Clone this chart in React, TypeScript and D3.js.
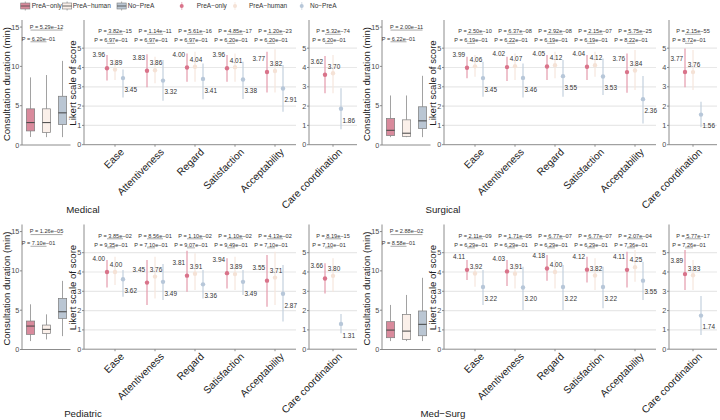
import * as d3 from 'd3'

const GROUPS = ['PreA-only', 'PreA-human', 'No-PreA']
const GROUP_LABELS = ['PreA−only', 'PreA−human', 'No−PreA']
const ITEMS = ['Ease', 'Attentiveness', 'Regard', 'Satisfaction', 'Acceptability']
const CC = 'Care coordination'

const PANEL_NAMES = ['Medical', 'Surgical', 'Pediatric', 'Med−Surg']

// box stats per group: [lower whisker, q1, median, q3, upper whisker]
const medicalBox = [[1.02, 1.79, 2.85, 4.6, 8.6], [1.0, 1.6, 2.85, 4.6, 8.9], [1.0, 2.6, 4.09, 6.2, 10.7]]
const surgicalBox = [[1.0, 1.2, 1.87, 3.37, 6.3], [1.0, 1.1, 1.5, 3.2, 6.3], [1.0, 2.1, 3.07, 4.86, 8.8]]
const pediatricBox = [[1.07, 1.92, 2.98, 3.62, 5.75], [1.28, 2.05, 2.56, 3.11, 4.47], [1.7, 3.96, 4.8, 6.5, 8.73]]
const medSurgBox = [[1.07, 1.5, 2.47, 3.54, 5.67], [1.07, 1.28, 2.34, 4.47, 6.94], [1.07, 1.75, 3.2, 4.9, 9.12]]

// Likert means per group, in ITEMS order then Care coordination
const medicalMean = [[3.96, 3.83, 4.0, 3.96, 3.77, 3.62], [3.89, 3.86, 4.04, 4.01, 3.82, 3.7], [3.45, 3.32, 3.41, 3.38, 2.91, 1.86]]
const medicalLow = [[3.32, 2.97, 3.26, 3.26, 2.7, 2.66], [3.35, 3.18, 3.26, 3.26, 2.7, 2.66], [2.44, 2.28, 2.35, 2.37, 1.71, 0.8]]
const medicalHigh = [[4.65, 4.68, 4.73, 4.65, 4.82, 4.6], [4.42, 4.56, 4.82, 4.73, 4.94, 4.65], [3.9, 4.39, 4.21, 4.3, 4.13, 2.92]]

const surgicalMean = [[3.99, 4.02, 4.05, 4.04, 3.76, 3.77], [4.06, 4.07, 4.12, 4.12, 3.84, 3.76], [3.45, 3.46, 3.55, 3.53, 2.36, 1.56]]
const surgicalLow = [[3.44, 3.3, 3.35, 3.35, 2.69, 2.97], [3.52, 3.35, 3.44, 3.52, 2.83, 2.83], [2.49, 2.45, 2.49, 2.57, 1.1, 0.9]]
const surgicalHigh = [[4.56, 4.56, 4.65, 4.65, 4.73, 4.99], [4.65, 4.73, 4.82, 4.82, 4.9, 4.9], [4.3, 4.21, 4.39, 4.47, 3.56, 2.23]]

const pediatricMean = [[4.0, 3.45, 3.81, 3.94, 3.55, 3.66], [4.0, 3.76, 3.91, 3.89, 3.71, 3.8], [3.62, 3.49, 3.36, 3.49, 2.87, 1.31]]
const pediatricLow = [[3.19, 2.29, 2.98, 3.15, 2.2, 2.89], [3.32, 2.63, 3.07, 3.07, 2.29, 2.98], [2.72, 2.55, 2.63, 2.81, 1.43, 0.82]]
const pediatricHigh = [[4.62, 4.62, 5.1, 4.71, 4.88, 4.45], [4.79, 4.79, 4.97, 4.79, 5.05, 4.71], [4.1, 4.41, 4.1, 4.1, 4.36, 1.82]]

const medSurgMean = [[4.11, 4.03, 4.18, 4.12, 4.11, 3.89], [3.92, 3.91, 4.0, 3.82, 4.25, 3.83], [3.22, 3.2, 3.22, 3.22, 3.55, 1.74]]
const medSurgLow = [[3.58, 3.27, 3.55, 3.45, 3.19, 3.07], [3.24, 3.15, 3.15, 3.07, 3.5, 3.07], [2.29, 2.03, 2.03, 2.12, 2.55, 0.73]]
const medSurgHigh = [[4.62, 4.62, 4.88, 4.79, 5.05, 5.14], [4.27, 4.45, 4.62, 4.71, 5.14, 4.62], [4.1, 4.27, 4.36, 4.27, 4.53, 2.75]]

// p-values: box [only vs no, only vs human]; likert rows in ITEMS order then Care coordination
const medicalBoxP = ['5.29e−12', '6.20e−01']
const medicalPNo = ['3.82e−15', '1.14e−11', '5.61e−16', '4.85e−17', '1.20e−23', '5.32e−74']
const medicalPHuman = ['6.97e−01', '6.97e−01', '6.97e−01', '6.20e−01', '6.20e−01', '6.20e−01']

const surgicalBoxP = ['2.00e−11', '6.22e−01']
const surgicalPNo = ['2.50e−10', '6.37e−08', '2.92e−08', '2.15e−07', '5.75e−25', '2.15e−55']
const surgicalPHuman = ['6.19e−01', '6.22e−01', '6.19e−01', '6.19e−01', '8.22e−01', '8.72e−01']

const pediatricBoxP = ['1.26e−05', '7.10e−01']
const pediatricPNo = ['3.85e−02', '8.56e−01', '1.10e−02', '1.10e−02', '4.13e−02', '8.19e−15']
const pediatricPHuman = ['9.35e−01', '7.10e−01', '9.07e−01', '9.49e−01', '7.10e−01', '7.10e−01']

const medSurgBoxP = ['2.88e−02', '8.58e−01']
const medSurgPNo = ['2.11e−09', '1.71e−05', '6.77e−07', '6.77e−07', '2.07e−04', '5.77e−17']
const medSurgPHuman = ['6.29e−01', '6.29e−01', '6.29e−01', '6.29e−01', '7.36e−01', '7.26e−01']

const DOT = ['#D9738A', '#F5E2D6', '#B7C7D9']
const BAR = ['#E49AAB', '#F6E6DC', '#C3D0DE']
const BOX_FILL = ['#D98A9C', '#FBF0EA', '#BAC6D3']
const FONT = 'Liberation Sans, Arial, Helvetica, sans-serif'
const AXIS = '#7f7f7f'
const GRID = '#e8e8e8'
const TXT = '#4d4d4d'

const fmt = d3.format('.2f')

interface PanelProps {
  name: string
  dx: number
  dy: number
  box: number[][]
  mean: number[][]
  low: number[][]
  high: number[][]
  boxP: string[]
  pNo: string[]
  pHuman: string[]
}

function Panel({ name, dx, dy, box, mean, low, high, boxP, pNo, pHuman }: PanelProps) {
  // boxplot scales
  const yBox = d3.scaleLinear().domain([0, 15.9]).range([145, 20])
  const xBox = d3.scaleBand().domain(GROUPS).range([22.5, 70.5])
  const bw = 8.3
  const bx = (g: string) => xBox(g)! + xBox.bandwidth() / 2

  // likert scales
  const yLik = d3.scaleLinear().domain([0, 6.46]).range([144.7, 20])
  const xLik = d3.scalePoint<string>().domain(ITEMS).range([115, 275])
  const xCC = d3.scalePoint<string>().domain([CC]).range([309, 357]).padding(0.5)
  const dodge = d3.scalePoint<string>().domain(GROUPS).range([-8, 8])

  const likAxis = { x0: 84, x1: 296 }
  const ccAxis = { x0: 309, x1: 357 }

  const cats = [...ITEMS.map(c => ({ c, x: xLik(c)! })), { c: CC, x: xCC(CC)! }]

  const bracket = (x1: number, x2: number, y: number, label: string, key: string) => (
    <g key={key}>
      <line x1={x1} x2={x2} y1={y} y2={y} stroke="#555" strokeWidth={0.5} />
      <text x={(x1 + x2) / 2} y={y - 1.2} textAnchor="middle" fontSize={5.6} fill="#333">
        P = {label}
      </text>
    </g>
  )

  const yAxis = (x: number, scale: d3.ScaleLinear<number, number>, ticks: number[], top: number) => (
    <g>
      <line x1={x} x2={x} y1={top} y2={scale(0)} stroke={AXIS} strokeWidth={0.9} />
      {ticks.map(t => (
        <g key={t}>
          <line x1={x - 2} x2={x} y1={scale(t)} y2={scale(t)} stroke={AXIS} strokeWidth={0.9} />
          <text x={x - 2.6} y={scale(t)} dy="0.35em" textAnchor="end" fontSize={7.3} fill={TXT}>
            {t}
          </text>
        </g>
      ))}
    </g>
  )

  return (
    <g transform={`translate(${dx},${dy})`} fontFamily={FONT}>
      {/* boxplot */}
      <text transform={`translate(9.6,84) rotate(-90)`} textAnchor="middle" fontSize={9.5} fill="#222">
        Consultation duration (min)
      </text>
      {yAxis(22, yBox, [0, 5, 10, 15], 20)}
      <line x1={22} x2={70.5} y1={yBox(0)} y2={yBox(0)} stroke={AXIS} strokeWidth={0.9} />
      {GROUPS.map((g, i) => {
        const [lo, q1, med, q3, hi] = box[i]
        const cx = bx(g)
        return (
          <g key={g}>
            <line x1={cx} x2={cx} y1={yBox(hi)} y2={yBox(q3)} stroke="#8a8a8a" strokeWidth={0.8} />
            <line x1={cx} x2={cx} y1={yBox(q1)} y2={yBox(lo)} stroke="#8a8a8a" strokeWidth={0.8} />
            <rect x={cx - bw / 2} y={yBox(q3)} width={bw} height={yBox(q1) - yBox(q3)}
              fill={BOX_FILL[i]} stroke="#7d7d7d" strokeWidth={0.7} />
            <line x1={cx - bw / 2} x2={cx + bw / 2} y1={yBox(med)} y2={yBox(med)} stroke="#444" strokeWidth={1} />
          </g>
        )
      })}
      {bracket(bx(GROUPS[0]), bx(GROUPS[2]), yBox(14.62), boxP[0], 'b0')}
      {bracket(bx(GROUPS[0]), bx(GROUPS[1]), yBox(13.13), boxP[1], 'b1')}

      {/* likert + care coordination */}
      <text transform={`translate(76,83) rotate(-90)`} textAnchor="middle" fontSize={9.6} fill="#222">
        Likert scale of score
      </text>
      {[likAxis, ccAxis].map((ax, k) => (
        <g key={k}>
          {[1, 2, 3, 4, 5].map(t => (
            <line key={t} x1={ax.x0} x2={ax.x1} y1={yLik(t)} y2={yLik(t)} stroke={GRID} strokeWidth={1.2} />
          ))}
          {yAxis(ax.x0, yLik, [0, 1, 2, 3, 4, 5], 20)}
          <line x1={ax.x0} x2={ax.x1} y1={yLik(0)} y2={yLik(0)} stroke={AXIS} strokeWidth={0.9} />
        </g>
      ))}
      {cats.map((cat, j) => (
        <g key={cat.c}>
          <line x1={cat.x} x2={cat.x} y1={yLik(0)} y2={yLik(0) + 2} stroke={AXIS} strokeWidth={0.9} />
          <text transform={`translate(${cat.x + 4.5},147.5) rotate(-45)`} dy="0.72em" textAnchor="end"
            fontSize={10.2} fill="#222">
            {cat.c}
          </text>
          {GROUPS.map((g, i) => {
            const x = cat.x + dodge(g)!
            const y = yLik(mean[i][j])
            return (
              <g key={g}>
                <line x1={x} x2={x} y1={yLik(high[i][j])} y2={yLik(low[i][j])} stroke={BAR[i]}
                  strokeWidth={1.6} strokeOpacity={0.75} />
                <circle cx={x} cy={y} r={2.2} fill={DOT[i]} />
              </g>
            )
          })}
          {GROUPS.map((g, i) => {
            const x = cat.x + dodge(g)!
            const y = yLik(mean[i][j])
            const pos = [
              { x: x - 2, y: y - 13, a: 'end' },
              { x: x + 1, y: y - 7, a: 'middle' },
              { x: x + 1.5, y: y + 11.5, a: 'start' },
            ][i]
            return (
              <text key={g} x={pos.x} y={pos.y} dy="0.35em" textAnchor={pos.a} fontSize={6.4} fill="#333">
                {fmt(mean[i][j])}
              </text>
            )
          })}
          {bracket(cat.x + dodge(GROUPS[0])!, cat.x + dodge(GROUPS[2])!, yLik(5.72), pNo[j], 'u' + j)}
          {bracket(cat.x + dodge(GROUPS[0])!, cat.x + dodge(GROUPS[1])!, yLik(5.25), pHuman[j], 'l' + j)}
        </g>
      ))}

      <text x={83} y={212.5} textAnchor="middle" fontSize={9.7} fill="#222">
        {name}
      </text>
    </g>
  )
}

function Legend() {
  const boxKeys = [20.7, 62.5, 117]
  const dotKeys = [181.7, 235, 301.7]
  const boxText = [31.7, 72.7, 127.7]
  const dotText = [196.7, 249, 310]
  const cy = 6
  return (
    <g fontFamily={FONT}>
      {GROUPS.map((g, i) => (
        <g key={g}>
          <line x1={boxKeys[i] + 4.6} x2={boxKeys[i] + 4.6} y1={cy - 4.5} y2={cy + 4.5} stroke="#8a8a8a" strokeWidth={0.7} />
          <rect x={boxKeys[i]} y={cy - 3} width={9.2} height={6} fill={BOX_FILL[i]} stroke="#7d7d7d" strokeWidth={0.6} />
          <line x1={boxKeys[i]} x2={boxKeys[i] + 9.2} y1={cy} y2={cy} stroke="#444" strokeWidth={0.8} />
          <text x={boxText[i]} y={cy} dy="0.35em" fontSize={6.5} fill="#333">{GROUP_LABELS[i]}</text>
          <line x1={dotKeys[i]} x2={dotKeys[i]} y1={cy - 4} y2={cy + 4} stroke={BAR[i]} strokeWidth={1.4} strokeOpacity={0.5} />
          <circle cx={dotKeys[i]} cy={cy} r={2} fill={DOT[i]} />
          <text x={dotText[i]} y={cy} dy="0.35em" fontSize={6.5} fill="#333">{GROUP_LABELS[i]}</text>
        </g>
      ))}
    </g>
  )
}

export default function App() {
  const panels = [
    { box: medicalBox, mean: medicalMean, low: medicalLow, high: medicalHigh, boxP: medicalBoxP, pNo: medicalPNo, pHuman: medicalPHuman },
    { box: surgicalBox, mean: surgicalMean, low: surgicalLow, high: surgicalHigh, boxP: surgicalBoxP, pNo: surgicalPNo, pHuman: surgicalPHuman },
    { box: pediatricBox, mean: pediatricMean, low: pediatricLow, high: pediatricHigh, boxP: pediatricBoxP, pNo: pediatricPNo, pHuman: pediatricPHuman },
    { box: medSurgBox, mean: medSurgMean, low: medSurgLow, high: medSurgHigh, boxP: medSurgBoxP, pNo: medSurgPNo, pHuman: medSurgPHuman },
  ]
  const offX = [0, 360, 0, 360]
  const offY = [0, 0, 204.5, 204.5]
  return (
    <svg width={720} height={420} style={{ position: 'absolute', left: 0, top: 0, background: '#fff' }}>
      <rect width={720} height={420} fill="#fff" />
      <Legend />
      {panels.map((p, k) => (
        <Panel key={k} name={PANEL_NAMES[k]} dx={offX[k]} dy={offY[k]} {...p} />
      ))}
    </svg>
  )
}
